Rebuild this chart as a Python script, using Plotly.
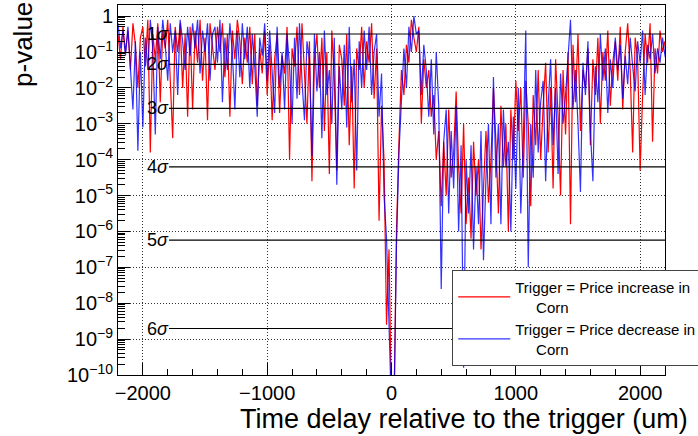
import math
import plotly.graph_objects as go

# ---------------- data ----------------
x_start, x_step = -2200, 20
# log10(p-value), one value every 20 units
red_log10p = [
    -0.5, -1.2, -0.3, -1.0, -0.4, -1.5, -0.2, -0.8, -2.0, -0.6, -0.3,
    -1.4, -0.1, -3.8, -0.5, -1.2, -0.2, -2.4, -0.4, -0.9, -0.1,
    -1.6, -3.4, -0.3, -1.0, -0.2, -2.0, -0.5, -2.8, -0.3, -2.6,
    -0.4, -1.3, -0.1, -1.8, -0.6, -2.9, -0.2, -0.8, -1.5, -0.3,
    -1.0, -0.2, -1.7, -0.5, -2.8, -0.4, -1.2, -0.1, -0.7, -1.9,
    -0.6, -1.3, -0.3, -1.9, -0.5, -2.5, -0.9, -1.6, -0.4, -2.2,
    -0.8, -2.9, -1.2, -0.5, -2.7, -1.1, -1.6, -0.3, -4.0, -0.9,
    -1.4, -0.3, -2.2, -0.2, -1.5, -3.0, -0.7, -4.6, -1.2, -0.5,
    -2.0, -0.6, -3.2, -1.0, -4.4, -0.4, -1.8, -4.3, -0.8, -1.2,
    -2.5, -0.5, -3.6, -1.4, -4.8, -0.9, -1.5, -0.3, -2.0, -0.7,
    -1.3, -0.2, -2.3, -0.9, -5.7, -2.5, -4.0, -8.6, -6.5, -11.0,
    -11.0, -6.0, -3.5, -1.5, -2.2, -0.8, -1.3, -0.1, -0.6, -1.0,
    -0.3, -3.0, -1.2, -2.0, -1.5, -2.8, -2.2, -4.0, -3.2, -5.3,
    -3.5, -5.0, -2.6, -4.5, -3.8, -2.1, -4.2, -5.5, -3.0, -5.8,
    -4.5, -6.2, -3.5, -5.0, -4.0, -6.5, -4.8, -3.2, -5.2, -4.0,
    -2.0, -3.5, -5.5, -2.5, -4.2, -3.0, -6.0, -2.6, -4.0, -1.8,
    -3.2, -2.0, -4.5, -1.8, -3.0, -5.3, -2.2, -3.6, -1.5, -4.0,
    -2.5, -1.3, -3.8, -2.0, -4.8, -1.2, -2.8, -5.0, -1.5, -3.3,
    -1.0, -5.8, -0.8, -2.4, -0.5, -3.2, -1.5, -2.0, -0.9, -3.6,
    -1.2, -2.2, -0.6, -3.0, -1.0, -1.8, -0.4, -2.5, -1.3, -0.7,
    -1.8, -0.3, -2.6, -1.0, -0.2, -1.5, -3.8, -0.6, -1.2, -4.3,
    -2.2, -0.5, -1.3, -0.2, -3.5, -0.9, -1.6, -0.4, -1.0, -0.7,
]
blue_log10p = [
    -0.2, -0.9, -0.4, -1.1, -0.3, -1.6, -2.6, -0.7, -3.75, -1.0, -3.1,
    -0.6, -1.5, -0.1, -0.9, -3.3, -0.3, -1.2, -0.1, -0.8, -1.8,
    -0.2, -1.0, -0.4, -2.2, -0.1, -0.7, -1.5, -0.3, -1.1, -0.2,
    -0.9, -0.1, -1.6, -0.4, -1.0, -0.2, -1.8, -0.5, -0.3, -1.3,
    -0.1, -2.4, -0.6, -1.5, -0.2, -1.0, -2.6, -0.4, -1.7, -0.2,
    -1.2, -0.3, -2.0, -0.5, -1.4, -2.8, -0.6, -1.1, -0.2, -1.8,
    -0.4, -1.6, -2.7, -0.3, -2.0, -1.0, -2.6, -0.5, -1.4, -3.0,
    -0.6, -2.3, -0.2, -1.8, -2.9, -0.7, -1.2, -3.9, -0.5, -2.1,
    -1.0, -3.4, -0.4, -2.2, -1.5, -3.0, -0.6, -4.7, -1.4, -2.6,
    -0.8, -3.1, -0.3, -2.4, -1.2, -4.3, -0.7, -2.0, -0.4, -1.5,
    -0.3, -2.2, -1.0, -0.5, -2.8, -1.6, -5.0, -6.2, -9.0, -11.0,
    -11.0, -6.4, -3.8, -2.4, -0.9, -2.0, -0.3, -1.0, 0.0, -0.5,
    -0.4, -2.2, -0.8, -1.5, -2.8, -1.2, -3.3, -1.0, -2.5, -7.6,
    -3.5, -2.6, -5.5, -3.2, -4.8, -2.5, -6.0, -3.6, -9.8, -4.0,
    -5.5, -3.6, -6.5, -4.2, -5.8, -3.2, -6.8, -4.5, -3.0, -5.8,
    -1.7, -4.5, -3.0, -5.8, -2.6, -4.2, -3.5, -6.0, -2.8, -4.8,
    -2.0, -5.5, -3.5, -0.4, -7.0, -3.0, -4.5, -1.5, -3.8, -2.4,
    -1.8, -4.6, -2.5, -1.2, -3.6, -2.0, -4.4, -1.6, -3.0, -2.2,
    -1.0, -0.1, -2.6, -1.5, -3.0, -4.9, -1.3, -2.2, -0.7, -3.2,
    -4.6, -1.4, -2.4, -0.5, -1.8, -0.9, -2.7, -1.2, -2.0, -0.6,
    -1.5, -0.8, -2.3, -1.1, -1.9, -0.6, -1.4, -2.1, -0.7, -1.3,
    -0.4, -2.2, -0.8, -1.2, -0.5, -1.6, -0.9, -1.3, -0.6, -1.1, -1.4,
]
sigma_numbers = ["1", "2", "3", "4", "5", "6"]
sigma_pvalues = [0.3173, 0.0455, 0.0027, 6.334e-5, 5.733e-7, 1.973e-9]
series_names = ["Trigger = Price increase in<br>&nbsp;&nbsp;&nbsp;&nbsp;&nbsp;Corn",
                "Trigger = Price decrease in<br>&nbsp;&nbsp;&nbsp;&nbsp;&nbsp;Corn"]
ytick_vals = [10.0 ** (-k) for k in range(0, 11)]
ytick_text = ["1"] + ["10<sup>\u2212%d</sup>" % k for k in range(1, 11)]

red_x = [x_start + x_step * i for i in range(len(red_log10p))]
blue_x = [x_start + x_step * i for i in range(len(blue_log10p))]
red_p = [10.0 ** v for v in red_log10p]
blue_p = [10.0 ** v for v in blue_log10p]

FONT = "Liberation Sans, Arial, Helvetica, sans-serif"

fig = go.Figure()
fig.add_trace(go.Scatter(x=red_x, y=red_p, mode="lines", name=series_names[0],
                         line=dict(color="#ff0000", width=1.2)))
fig.add_trace(go.Scatter(x=blue_x, y=blue_p, mode="lines", name=series_names[1],
                         line=dict(color="#0000ff", width=1.2), opacity=0.8))

for num, pv in zip(sigma_numbers, sigma_pvalues):
    fig.add_shape(type="line", xref="x", yref="y", x0=-1790, x1=2200, y0=pv, y1=pv,
                  line=dict(color="black", width=1.2), layer="above")
    fig.add_annotation(x=-1985, y=math.log10(pv), xref="x", yref="y",
                       text="%s<i>\u03c3</i>" % num,
                       showarrow=False, xanchor="left", yanchor="middle",
                       font=dict(family=FONT, size=18, color="black"))

fig.add_annotation(x=1.046, y=-0.12, xref="paper", yref="paper",
                   text="Time delay relative to the trigger (um)", showarrow=False,
                   xanchor="right", yanchor="middle",
                   font=dict(family=FONT, size=27, color="black"))
fig.add_annotation(x=-0.175, y=1.013, xref="paper", yref="paper", text="p-value",
                   textangle=-90, showarrow=False, xanchor="center", yanchor="top",
                   font=dict(family=FONT, size=26, color="black"))

fig.update_layout(
    width=698, height=436,
    margin=dict(l=118, r=33, t=5, b=61, autoexpand=False),
    paper_bgcolor="white", plot_bgcolor="white",
    font=dict(family=FONT, size=20, color="black"),
    showlegend=True,
    legend=dict(x=0.611, y=0.284, xanchor="left", yanchor="top",
                bgcolor="white", bordercolor="#444", borderwidth=1,
                font=dict(family=FONT, size=15, color="black"),
                itemwidth=52, tracegroupgap=6),
)
fig.update_xaxes(
    range=[-2200, 2200], tickvals=[-2000, -1000, 0, 1000, 2000],
    ticks="inside", ticklen=12, tickcolor="black",
    showline=True, linecolor="black", linewidth=1, mirror=True,
    showgrid=True, gridcolor="#333", griddash="1px,2px", gridwidth=1,
    zeroline=False,
    minor=dict(ticks="inside", ticklen=6, dtick=200, tick0=0, tickcolor="black", showgrid=False),
    tickfont=dict(family=FONT, size=20),
)
fig.update_yaxes(
    type="log", range=[-10, 0.31], tickvals=ytick_vals, ticktext=ytick_text,
    ticks="inside", ticklen=12, tickcolor="black",
    showline=True, linecolor="black", linewidth=1, mirror=True,
    showgrid=True, gridcolor="#333", griddash="1px,2px", gridwidth=1,
    zeroline=False,
    minor=dict(ticks="inside", ticklen=7, dtick="D1", tickcolor="black", showgrid=False),
    tickfont=dict(family=FONT, size=20),
)

fig.write_html("out.html")
